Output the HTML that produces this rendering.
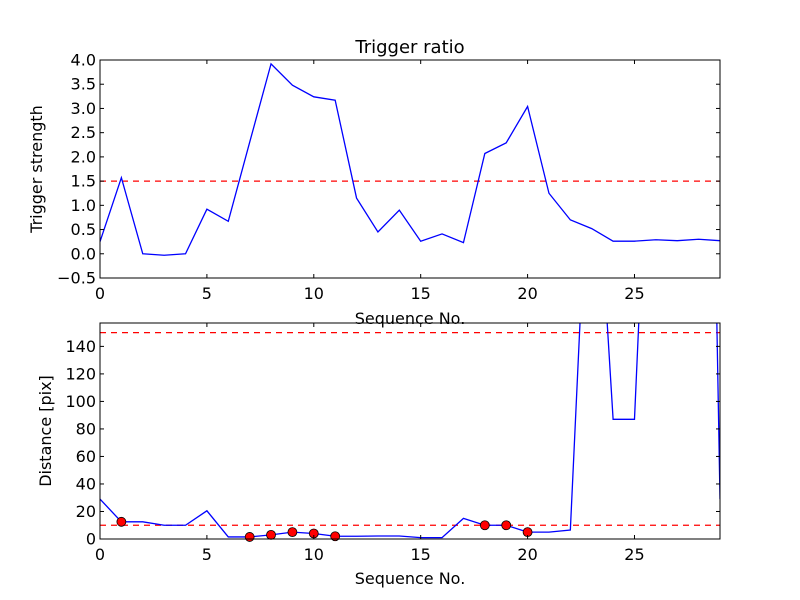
<!DOCTYPE html>
<html><head><meta charset="utf-8"><style>
body{margin:0;background:#fff}
svg{display:block;font-family:"DejaVu Sans","Liberation Sans",sans-serif}
</style></head><body>
<svg id="chart" width="800" height="600"></svg>
<script>
const xTop = Array.from({length:30},(_,i)=>i);
const strength = [0.25,1.57,0.0,-0.03,0.0,0.92,0.67,2.3,3.92,3.48,3.24,3.17,1.15,0.45,0.9,0.26,0.41,0.23,2.07,2.29,3.04,1.25,0.7,0.52,0.26,0.26,0.29,0.27,0.3,0.27];
const distance = [29,12.5,12.5,10,10,20.5,1.5,1.5,3,5,4,2,2,2.2,2.2,1,1,15,10,10,5,5,6.5,340,87,87,437,900,900,29];
const markerIdx = [1,7,8,9,10,11,18,19,20];
const topYTicks = [-0.5,0.0,0.5,1.0,1.5,2.0,2.5,3.0,3.5,4.0];
const botYTicks = [0,20,40,60,80,100,120,140];
const xTicks = [0,5,10,15,20,25];
const topThreshold = [1.5];
const botThresholds = [10,150];

const NS="http://www.w3.org/2000/svg";
const svg=document.getElementById('chart');
function mk(tag,attrs,parent){const e=document.createElementNS(NS,tag);for(const k in attrs)e.setAttribute(k,attrs[k]);(parent||svg).appendChild(e);return e;}
const L=100,R=720;
const sx=v=>L+(v-0)/(29-0)*(R-L);
function panel(top,bot,ymin,ymax,name){
  const sy=v=>bot-(v-ymin)/(ymax-ymin)*(bot-top);
  const g=mk('g',{});
  
  
  const cid='clip-'+name;
  const cp=mk('clipPath',{id:cid},g);mk('rect',{x:L,y:top,width:R-L,height:bot-top},cp);
  return {sy,g,cid};
}
function axes(p,top,bot,yticks,fmt,name){
  const fr=mk('rect',{x:L,y:top,width:R-L,height:bot-top,fill:'none',stroke:'#000','stroke-width':1},p.g);
  
  
  yticks.forEach(t=>{const y=p.sy(t);
    mk('line',{x1:L,x2:L+4,y1:y,y2:y,stroke:'#000'},p.g);
    mk('line',{x1:R,x2:R-4,y1:y,y2:y,stroke:'#000'},p.g);
    const tx=mk('text',{x:L-4,y:y+5.5,'text-anchor':'end','font-size':16},p.g);
    tx.textContent=fmt(t);
    
    
  });
  xTicks.forEach(t=>{const x=sx(t);
    mk('line',{x1:x,x2:x,y1:bot,y2:bot-4,stroke:'#000'},p.g);
    mk('line',{x1:x,x2:x,y1:top,y2:top+4,stroke:'#000'},p.g);
    const tx=mk('text',{x:x,y:bot+21,'text-anchor':'middle','font-size':16},p.g);
    tx.textContent=t;
    
    
  });
}
function line(p,vals,name){
  const pts=vals.map((v,i)=>sx(xTop[i])+','+p.sy(v)).join(' ');
  const pl=mk('polyline',{points:pts,fill:'none',stroke:'#0000ff','stroke-width':1.3,'clip-path':'url(#'+p.cid+')'},p.g);
  
  
}
function hline(p,v,name){
  const l=mk('line',{x1:L,x2:R,y1:p.sy(v),y2:p.sy(v),stroke:'#ff0000','stroke-width':1.3,'stroke-dasharray':'6,5'},p.g);
  
  
}
const p1=panel(60,278,-0.5,4.0,'top-panel');
topThreshold.forEach(v=>hline(p1,v,'trigger-threshold-line'));
line(p1,strength,'trigger-strength-line');
axes(p1,60,278,topYTicks,t=>t.toFixed(1).replace('-','\u2212'),'top');
const p2=panel(323,539,0,157,'bottom-panel');
botThresholds.forEach(v=>hline(p2,v,'distance-threshold-line'));
line(p2,distance,'distance-line');
markerIdx.forEach(i=>{
  const c=mk('circle',{cx:sx(xTop[i]),cy:p2.sy(distance[i]),r:4.5,fill:'#ff0000',stroke:'#000','stroke-width':0.8},p2.g);
  
  
});
axes(p2,323,539,botYTicks,t=>String(t),'bottom');
function label(txt,attrs,name){const t=mk('text',attrs);t.textContent=txt;}
label('Trigger ratio',{x:410,y:53,'text-anchor':'middle','font-size':18},'top-title');
label('Trigger strength',{x:0,y:0,'text-anchor':'middle','font-size':16,transform:'translate(42,169) rotate(-90)'},'top-y-axis-title');
label('Sequence No.',{x:410,y:324,'text-anchor':'middle','font-size':16},'top-x-axis-title');
label('Distance [pix]',{x:0,y:0,'text-anchor':'middle','font-size':16,transform:'translate(51,431) rotate(-90)'},'bottom-y-axis-title');
label('Sequence No.',{x:410,y:584,'text-anchor':'middle','font-size':16},'bottom-x-axis-title');
</script>
</body></html>
